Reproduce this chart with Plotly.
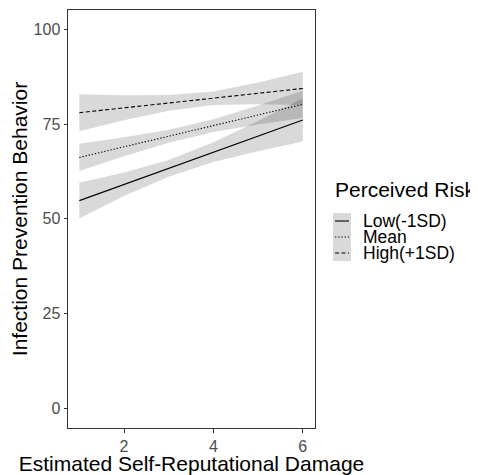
import plotly.graph_objects as go

# ---- data ----
x_vals = [1, 2, 3, 4, 5, 6]
groups = ["Low(-1SD)", "Mean", "High(+1SD)"]
low_fit = [54.8, 59.1, 63.3, 67.6, 71.8, 76.1]
low_lower = [50.1, 56.0, 61.1, 65.0, 67.8, 70.4]
low_upper = [59.5, 62.2, 65.5, 70.2, 75.8, 81.8]
mean_fit = [66.2, 69.0, 71.8, 74.6, 77.4, 80.2]
mean_lower = [62.6, 66.5, 70.1, 72.9, 74.9, 76.6]
mean_upper = [69.8, 71.5, 73.5, 76.3, 79.9, 83.8]
high_fit = [78.0, 79.3, 80.6, 81.8, 83.1, 84.4]
high_lower = [73.1, 76.0, 78.5, 80.0, 80.2, 80.0]
high_upper = [82.9, 82.6, 82.7, 83.6, 86.0, 88.8]
x_ticks = [2, 4, 6]
y_ticks = [0, 25, 50, 75, 100]
x_title = "Estimated Self-Reputational Damage"
y_title = "Infection Prevention Behavior"
legend_title = "Perceived Risk"

fits = [low_fit, mean_fit, high_fit]
lowers = [low_lower, mean_lower, high_lower]
uppers = [low_upper, mean_upper, high_upper]
dashes = ["solid", "1.3px,1.9px", "4px,2.5px"]

# ---- layout geometry (page body has an 8px margin) ----
OX, OY = 8, 8
W, H = 478 - OX, 475 - OY
L, R, T, B = 68 - OX, 163, 10 - OY, 47
PW, PH = W - L - R, H - T - B
FONT = "Liberation Sans, Arial, sans-serif"
RIB = "rgba(0,0,0,0.15)"


def px(xp):
    return (xp - OX - L) / PW


def py(yp):
    return 1 - (yp - OY - T) / PH


fig = go.Figure()
for lo, up in zip(lowers, uppers):
    fig.add_trace(go.Scatter(x=x_vals, y=lo, mode="lines", line=dict(width=0),
                             showlegend=False, hoverinfo="skip"))
    fig.add_trace(go.Scatter(x=x_vals, y=up, mode="lines", line=dict(width=0),
                             fill="tonexty", fillcolor=RIB, showlegend=False,
                             hoverinfo="skip"))
for name, f, d in zip(groups, fits, dashes):
    fig.add_trace(go.Scatter(x=x_vals, y=f, mode="lines", name=name,
                             line=dict(color="black", width=1.1, dash=d),
                             showlegend=False))

# ---- manual legend (ggplot style) ----
shapes = []
annotations = []
annotations.append(dict(text=legend_title, x=px(333), y=py(189.5), xref="paper",
                        yref="paper", xanchor="left", yanchor="middle",
                        showarrow=False, font=dict(family=FONT, size=21, color="black")))
key_centers = [221, 237, 253]
for name, d, cy in zip(groups, dashes, key_centers):
    shapes.append(dict(type="rect", xref="paper", yref="paper",
                       x0=px(333), x1=px(351), y0=py(cy - 8), y1=py(cy + 8),
                       fillcolor="#d9d9d9", line=dict(width=0), layer="above"))
    shapes.append(dict(type="line", xref="paper", yref="paper",
                       x0=px(335), x1=px(349), y0=py(cy), y1=py(cy),
                       line=dict(color="black", width=1.1, dash=d), layer="above"))
    annotations.append(dict(text=name, x=px(361), y=py(cy), xref="paper",
                            yref="paper", xanchor="left", yanchor="middle",
                            showarrow=False,
                            font=dict(family=FONT, size=17.5, color="black")))

axis_common = dict(showgrid=False, zeroline=False, showline=True, mirror=True,
                   linecolor="#333333", linewidth=1, ticks="outside", ticklen=3.5,
                   tickcolor="#333333", tickwidth=1, automargin=False,
                   tickfont=dict(family=FONT, size=16, color="#4d4d4d"))

fig.update_layout(
    width=W, height=H,
    margin=dict(l=L, r=R, t=T, b=B, autoexpand=False),
    paper_bgcolor="white", plot_bgcolor="white",
    showlegend=False,
    xaxis=dict(range=[0.747, 6.273], tickvals=x_ticks,
               title=dict(text=x_title, font=dict(family=FONT, size=21, color="black"),
                          standoff=2),
               **axis_common),
    yaxis=dict(range=[-5.2, 105.1], tickvals=y_ticks,
               title=dict(text=y_title, font=dict(family=FONT, size=21, color="black"),
                          standoff=6),
               **axis_common),
    shapes=shapes,
    annotations=annotations,
)

fig.write_html("out.html")
